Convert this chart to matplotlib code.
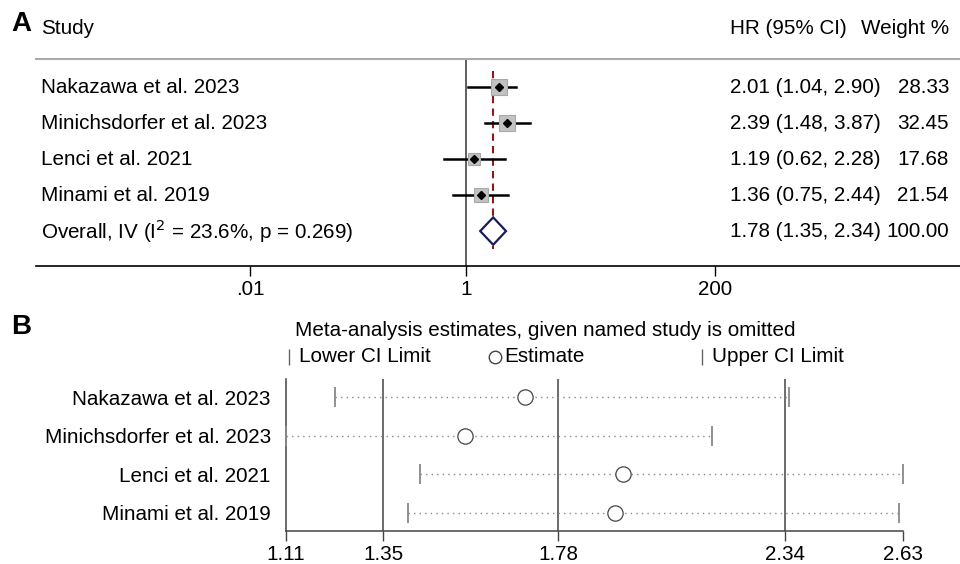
import numpy as np
import matplotlib
matplotlib.use("Agg")
import matplotlib.pyplot as plt
import matplotlib.transforms as mtransforms

plt.rcParams['font.family'] = ['Liberation Sans', 'DejaVu Sans']

# ---- data: panel A (forest plot) ----
studies = ["Nakazawa et al. 2023", "Minichsdorfer et al. 2023",
           "Lenci et al. 2021", "Minami et al. 2019"]
hr = [2.01, 2.39, 1.19, 1.36]
hr_lo = [1.04, 1.48, 0.62, 0.75]
hr_hi = [2.90, 3.87, 2.28, 2.44]
weights = [28.33, 32.45, 17.68, 21.54]
overall = 1.78
overall_lo = 1.35
overall_hi = 2.34
overall_label = "Overall, IV (I$^{2}$ = 23.6%, p = 0.269)"
a_ticks = [0.01, 1, 200]
a_ticklabels = [".01", "1", "200"]

# ---- data: panel B (leave-one-out) ----
omit_est = [1.70, 1.55, 1.94, 1.92]
omit_lo = [1.23, 1.11, 1.44, 1.41]
omit_hi = [2.35, 2.16, 2.63, 2.62]
b_ticks = [1.11, 1.35, 1.78, 2.34, 2.63]

W, H = 960, 564
fig = plt.figure(figsize=(W / 100, H / 100), dpi=100)

def fx(px):
    return px / W

def fy(py):
    return 1 - py / H

FS = 14.9

# ================= panel A =================
axA = fig.add_axes([fx(36), fy(266), fx(960) - fx(36), fy(59) - fy(266)])
axA.set_xscale('log')
axA.set_xlim(10 ** -3.98, 10 ** 4.57)
n = len(studies)
rows = np.arange(1, n + 2)
axA.set_ylim(n + 1 + 0.97, 0.22)

for s in ['left', 'right']:
    axA.spines[s].set_visible(False)
axA.spines['top'].set_color('#aaaaaa')
axA.spines['top'].set_linewidth(1.5)
axA.spines['bottom'].set_linewidth(1.2)
axA.set_yticks([])
axA.set_xticks(a_ticks)
axA.set_xticklabels(a_ticklabels, fontsize=FS)
axA.minorticks_off()
axA.tick_params(axis='x', length=7, width=1, pad=3)

axA.axvline(1, color='#444444', lw=1.2, zorder=1)
axA.plot([overall, overall], [0.55, n + 1 + 0.5], ls=(0, (3.5, 2.5)),
         color='#8b1a1a', lw=1.5, zorder=2)

for i in range(n):
    y = rows[i]
    axA.plot([hr_lo[i], hr_hi[i]], [y, y], color='black', lw=1.8, zorder=3)
    side = 2.05 * np.sqrt(weights[i])
    axA.plot(hr[i], y, marker='s', ms=side, mfc='#c2c2c2', mec='#a8a8a8',
             mew=0.8, zorder=3.5)
    axA.plot(hr[i], y, marker='D', ms=3.6, color='black', zorder=4)

yo = rows[n]
dh = 0.38
axA.fill([overall_lo, overall, overall_hi, overall],
         [yo, yo - dh, yo, yo + dh], facecolor='white', edgecolor='#1a1a5c',
         lw=1.6, zorder=4)

trA = mtransforms.blended_transform_factory(axA.transAxes, axA.transData)
labelsA = studies + [overall_label]
hr_txt = ["%.2f (%.2f, %.2f)" % t for t in zip(hr, hr_lo, hr_hi)]
hr_txt.append("%.2f (%.2f, %.2f)" % (overall, overall_lo, overall_hi))
w_txt = ["%.2f" % w for w in weights] + ["100.00"]
for i, y in enumerate(rows):
    axA.text(0.0055, y, labelsA[i], transform=trA, fontsize=FS, va='center')
    axA.text(0.751, y, hr_txt[i], transform=trA, fontsize=FS, va='center')
    axA.text(0.988, y, w_txt[i], transform=trA, fontsize=FS, va='center',
             ha='right')

fig.text(fx(41), fy(28), "Study", fontsize=FS, va='center')
fig.text(fx(730), fy(28), "HR (95% CI)", fontsize=FS, va='center')
fig.text(fx(949), fy(28), "Weight %", fontsize=FS, va='center', ha='right')
fig.text(fx(11), fy(24), "A", fontsize=20, fontweight='bold', va='center')

# ================= panel B =================
axB = fig.add_axes([fx(286), fy(531), fx(903) - fx(286), fy(379) - fy(531)])
axB.set_xlim(b_ticks[0], b_ticks[-1])
axB.set_ylim(n + 0.47, 0.53)
for s in ['top', 'right']:
    axB.spines[s].set_visible(False)
for s in ['left', 'bottom']:
    axB.spines[s].set_color('#444444')
    axB.spines[s].set_linewidth(1.1)
axB.set_xticks(b_ticks)
axB.set_xticklabels(["%.2f" % t for t in b_ticks], fontsize=FS)
axB.tick_params(axis='x', length=7, width=1, color='#444444', pad=3)
rowsB = np.arange(1, n + 1)
axB.set_yticks(rowsB)
axB.set_yticklabels(studies, fontsize=FS)
axB.tick_params(axis='y', length=0, pad=11)

for t in b_ticks[1:-1]:
    axB.axvline(t, color='#444444', lw=1.1, zorder=1)

for i, y in enumerate(rowsB):
    axB.plot([omit_lo[i], omit_hi[i]], [y, y], ls=(0, (1, 3)),
             color='#888888', lw=1.0, zorder=2)
axB.plot(omit_lo, rowsB, ls='none', marker='|', ms=14, mew=1.3,
         color='#888888', zorder=3, clip_on=False)
axB.plot(omit_hi, rowsB, ls='none', marker='|', ms=14, mew=1.3,
         color='#888888', zorder=3, clip_on=False)
axB.plot(omit_est, rowsB, ls='none', marker='o', ms=11, mfc='white',
         mec='#444444', mew=0.9, zorder=4, clip_on=False)

fig.text(fx(545), fy(330), "Meta-analysis estimates, given named study is omitted",
         fontsize=FS, ha='center', va='center')
fig.text(fx(11), fy(327), "B", fontsize=20, fontweight='bold', va='center')

# legend row
leg_y = fy(357)
fig.lines.append(plt.Line2D([fx(289)], [leg_y], marker='|', ms=11, mew=1.0,
                            color='#666666', transform=fig.transFigure))
fig.text(fx(299), leg_y, "Lower CI Limit", fontsize=FS, va='center')
fig.lines.append(plt.Line2D([fx(495)], [leg_y], marker='o', ms=9, mfc='white',
                            mec='#444444', mew=1.0, transform=fig.transFigure))
fig.text(fx(504), leg_y, "Estimate", fontsize=FS, va='center')
fig.lines.append(plt.Line2D([fx(702)], [leg_y], marker='|', ms=11, mew=1.0,
                            color='#666666', transform=fig.transFigure))
fig.text(fx(712), leg_y, "Upper CI Limit", fontsize=FS, va='center')

fig.savefig("out.png", dpi=100)
